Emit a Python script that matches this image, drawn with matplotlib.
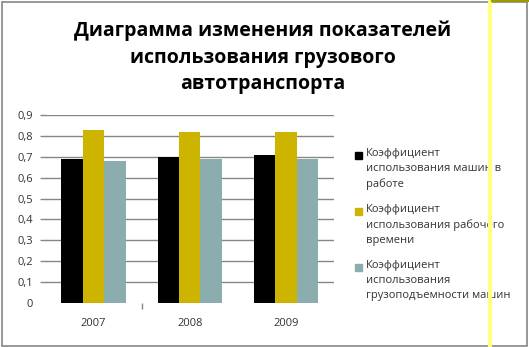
import matplotlib
matplotlib.use("Agg")
import matplotlib.pyplot as plt
import numpy as np
from matplotlib.patches import Rectangle
from matplotlib.lines import Line2D

plt.rcParams['font.family'] = ['Open Sans', 'DejaVu Sans']

years = ['2007', '2008', '2009']
series_names = [
    'Коэффициент\nиспользования машин в\nработе',
    'Коэффициент\nиспользования рабочего\nвремени',
    'Коэффициент\nиспользования\nгрузоподъемности машин',
]
machines_work = [0.69, 0.70, 0.71]
working_time = [0.83, 0.82, 0.82]
load_capacity = [0.68, 0.69, 0.69]
series_values = [machines_work, working_time, load_capacity]
colors = ['#000000', '#CCB400', '#8CADAD']
yticks = [0, 0.1, 0.2, 0.3, 0.4, 0.5, 0.6, 0.7, 0.8, 0.9]
ytick_labels = ['0', '0,1', '0,2', '0,3', '0,4', '0,5', '0,6', '0,7', '0,8', '0,9']
title = 'Диаграмма изменения показателей\nиспользования грузового\nавтотранспорта'

W, H = 529, 347
fig = plt.figure(figsize=(W / 100, H / 100), dpi=100)
fig.patch.set_facecolor('white')

ax = fig.add_axes([45.5 / W, (H - 303) / H, 288.5 / W, 188 / H])
x = np.arange(len(years))
bw = 0.223
for i, (vals, c) in enumerate(zip(series_values, colors)):
    ax.bar(x + (i - 1) * bw, vals, width=bw, color=c, zorder=3)

ax.set_xlim(-0.5, len(years) - 0.5)
ax.set_ylim(0, 0.9)
ax.set_yticks(yticks)
ax.set_yticklabels(ytick_labels)
ax.set_xticks(x)
ax.set_xticklabels(years)
for s in ax.spines.values():
    s.set_visible(False)
grid_c = '#868686'
ax.grid(axis='y', color=grid_c, linewidth=1, zorder=0)
ax.tick_params(axis='y', length=4, color=grid_c, width=1, pad=5, labelsize=8, labelcolor='#333333')
ax.tick_params(axis='x', length=0, pad=11, labelsize=8, labelcolor='#333333')
yt = ax.yaxis.get_major_ticks()[0]
yt.gridline.set_visible(False)
yt.tick1line.set_visible(False)
ax.set_xticks([0.5], minor=True)
ax.tick_params(axis='x', which='minor', length=4, color=grid_c, width=1)

fig.text(263 / W, 1 - 57.5 / H, title, ha='center', va='center', fontsize=14,
         fontweight='bold', linespacing=1.45, color='#000000')

# legend
for i, (name, c) in enumerate(zip(series_names, colors)):
    ytop = 148 + i * 56
    fig.patches.append(Rectangle((355 / W, 1 - (ytop + 11) / H), 7 / W, 7 / H,
                                 transform=fig.transFigure, color=c))
    fig.text(366 / W, 1 - ytop / H, name, ha='left', va='top', fontsize=8,
             linespacing=1.5, color='#333333')

# frame
fig.patches.append(Rectangle((1.5 / W, 1.5 / H), (W - 4) / W, (H - 3.5) / H,
                             transform=fig.transFigure, fill=False,
                             edgecolor='#868686', linewidth=1.2, zorder=5))
fig.lines.append(Line2D([490 / W, 490 / W], [0, 1], transform=fig.transFigure,
                        color='#FFFF80', linewidth=3, zorder=10))
fig.lines.append(Line2D([492 / W, 1], [1 - 1 / H, 1 - 1 / H], transform=fig.transFigure,
                        color='#9B9B00', linewidth=1.5, zorder=10))

fig.savefig('out.png', dpi=100)
